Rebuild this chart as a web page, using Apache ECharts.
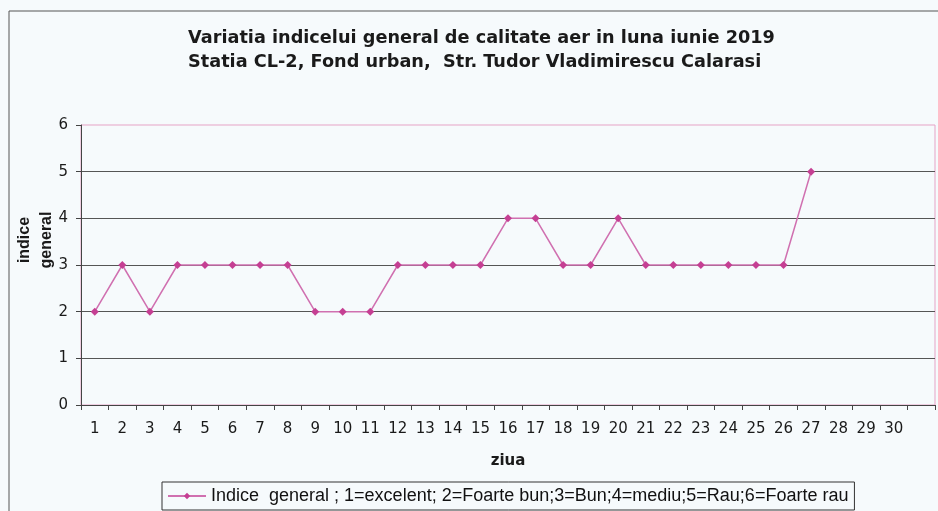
<!DOCTYPE html>
<html>
<head>
<meta charset="utf-8">
<script src="https://cdn.jsdelivr.net/npm/echarts@6/dist/echarts.min.js"></script>
<style>
  html, body { margin: 0; padding: 0; background: #f6fafc; }
  #chart { width: 938px; height: 511px; }
</style>
</head>
<body>
<div id="chart"></div>
<script>
// zilele lunii (ultima categorie goala, ca in original)
const days = ['1','2','3','4','5','6','7','8','9','10','11','12','13','14','15',
  '16','17','18','19','20','21','22','23','24','25','26','27','28','29','30','']
const indiceGeneral = [2, 3, 2, 3, 3, 3, 3, 3, 2, 2, 2, 3, 3, 3, 3,
  4, 4, 3, 3, 4, 3, 3, 3, 3, 3, 3, 5, null, null, null, null]
const yTicks = [0, 1, 2, 3, 4, 5, 6]

const seriesName = 'Indice  general ; 1=excelent; 2=Foarte bun;3=Bun;4=mediu;5=Rau;6=Foarte rau'
const arial = '"Liberation Sans", Arial, sans-serif'
const wide = '"DejaVu Sans", Verdana, sans-serif'

const chart = echarts.init(document.getElementById('chart'))

chart.setOption({
  backgroundColor: '#f6fafc',
  animation: false,
  textStyle: { fontFamily: arial },
  title: {
    text: 'Variatia indicelui general de calitate aer in luna iunie 2019\nStatia CL-2, Fond urban,  Str. Tudor Vladimirescu Calarasi',
    left: 183,
    top: 21,
    textStyle: { fontFamily: wide, fontSize: 17.7, fontWeight: 'bold', color: '#1a1a1a', lineHeight: 24 }
  },
  graphic: [
    {
      type: 'rect',
      shape: { x: 9, y: 11, width: 940, height: 510 },
      style: { fill: 'none', stroke: '#555', lineWidth: 1 },
      silent: true
    },
    {
      type: 'text',
      x: 36,
      y: 240,
      rotation: Math.PI / 2,
      style: {
        text: 'indice\ngeneral',
        fontFamily: arial,
        fontSize: 16,
        fontWeight: 'bold',
        lineHeight: 22,
        fill: '#1a1a1a',
        align: 'center',
        verticalAlign: 'middle'
      }
    }
  ],
  legend: {
    left: 162,
    top: 482,
    itemWidth: 38,
    itemHeight: 8,
    itemGap: 0,
    padding: [5, 6, 5, 5],
    borderColor: '#333',
    borderWidth: 1,
    backgroundColor: '#f6fafc',
    textStyle: { fontFamily: arial, fontSize: 18, lineHeight: 18, color: '#111' },
    data: [seriesName]
  },
  grid: {
    left: 81,
    right: 3,
    top: 125,
    bottom: 106,
    show: true,
    borderColor: '#e6a3c6',
    borderWidth: 1,
    containLabel: false
  },
  xAxis: {
    type: 'category',
    data: days,
    boundaryGap: true,
    name: 'ziua',
    nameLocation: 'middle',
    nameGap: 49,
    nameTextStyle: { fontFamily: wide, fontSize: 15, fontWeight: 'bold', color: '#1a1a1a' },
    axisLine: { lineStyle: { color: '#444', width: 1 } },
    axisTick: { show: true, length: 5, inside: false, lineStyle: { color: '#444' } },
    axisLabel: { fontFamily: wide, fontSize: 15, color: '#1a1a1a', margin: 17, interval: 0 },
    splitLine: { show: false }
  },
  yAxis: {
    type: 'value',
    min: yTicks[0],
    max: yTicks[yTicks.length - 1],
    interval: 1,
    axisLine: { show: true, lineStyle: { color: '#444', width: 1 } },
    axisTick: { show: true, length: 5, lineStyle: { color: '#444' } },
    axisLabel: { fontFamily: wide, fontSize: 15, color: '#1a1a1a', margin: 13 },
    splitLine: { show: true, showMaxLine: false, lineStyle: { color: '#555', width: 1 } }
  },
  series: [{
    name: seriesName,
    type: 'line',
    data: indiceGeneral,
    symbol: 'diamond',
    symbolSize: 8,
    showAllSymbol: true,
    connectNulls: false,
    lineStyle: { color: '#d070b0', width: 1.5 },
    itemStyle: { color: '#c53f93' }
  }]
})

window.addEventListener('resize', () => chart.resize())
</script>
</body>
</html>
